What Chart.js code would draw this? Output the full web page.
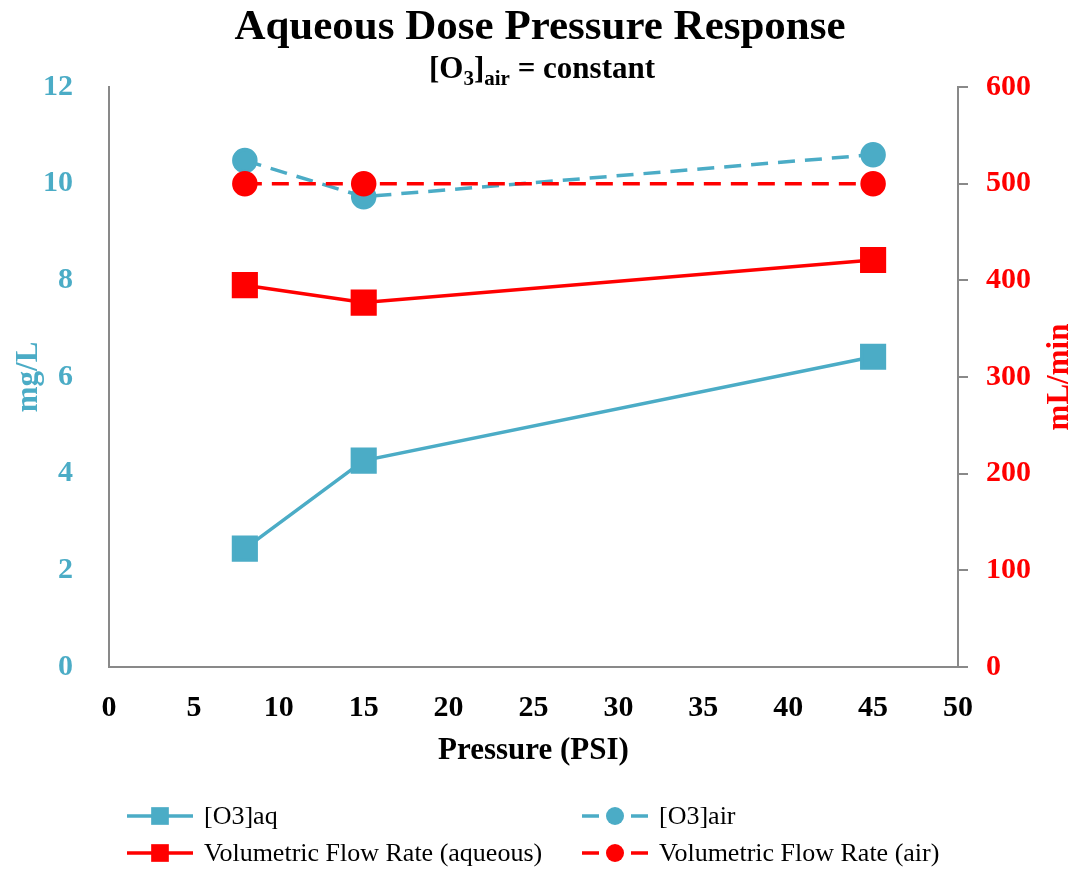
<!DOCTYPE html>
<html>
<head>
<meta charset="utf-8">
<title>Aqueous Dose Pressure Response</title>
<script src="https://cdn.jsdelivr.net/npm/chart.js@4/dist/chart.umd.min.js"></script>
<style>
  html, body { margin: 0; padding: 0; background: #fff; }
  #wrap { width: 1076px; height: 869px; }
</style>
</head>
<body>
<div id="wrap"><canvas id="myChart" width="1076" height="869"></canvas></div>
<script>
// measurements, pressure in PSI
const pressure = [8, 15, 45];
const o3Aq = [2.45, 4.27, 6.42];       // mg/L
const o3Air = [10.48, 9.73, 10.6];     // mg/L
const flowAq = [395, 377, 421];        // mL/min
const flowAir = [500, 500, 500];       // mL/min

const xTickValues = [0, 5, 10, 15, 20, 25, 30, 35, 40, 45, 50];
const yTickValues = [0, 2, 4, 6, 8, 10, 12];
const y2TickValues = [0, 100, 200, 300, 400, 500, 600];

const titleText = 'Aqueous Dose Pressure Response';
const subtitleParts = [
  { text: '[O', sub: false },
  { text: '3', sub: true },
  { text: ']', sub: false },
  { text: 'air', sub: true },
  { text: ' = constant', sub: false }
];

const SERIF = '"Liberation Serif", "Times New Roman", serif';
const BLUE = '#4BACC6';
const RED = '#FF0000';
const AXIS = '#898989';

const toPoints = ys => ys.map((y, i) => ({ x: pressure[i], y: y }));
const setTicks = values => scale => { scale.ticks = values.map(v => ({ value: v })); };

const ctx = document.getElementById('myChart');

// titles, rotated axis titles and the two-column legend
const chartText = {
  id: 'chartText',
  afterDraw(chart) {
    const c = chart.ctx;
    const area = chart.chartArea;
    const midY = (area.top + area.bottom) / 2;
    c.save();

    c.fillStyle = '#000';
    c.textAlign = 'center';
    c.textBaseline = 'alphabetic';
    c.font = `bold 43px ${SERIF}`;
    c.fillText(titleText, 540, 39);

    // subtitle with subscripts
    const bigFont = `bold 31px ${SERIF}`;
    const subFont = `bold 21px ${SERIF}`;
    let total = 0;
    subtitleParts.forEach(p => {
      c.font = p.sub ? subFont : bigFont;
      p.w = c.measureText(p.text).width;
      total += p.w;
    });
    let sx = 542 - total / 2;
    c.textAlign = 'left';
    subtitleParts.forEach(p => {
      c.font = p.sub ? subFont : bigFont;
      c.fillText(p.text, sx, p.sub ? 85 : 78);
      sx += p.w;
    });

    // axis titles, both read bottom to top
    c.textAlign = 'center';
    c.textBaseline = 'middle';
    c.font = `bold 31px ${SERIF}`;
    [['mg/L', 29, BLUE], ['mL/min', 1060, RED]].forEach(([txt, x, col]) => {
      c.save();
      c.translate(x, midY);
      c.rotate(-Math.PI / 2);
      c.fillStyle = col;
      c.fillText(txt, 0, 0);
      c.restore();
    });

    // legend
    const colX = [127, 582];
    const rowY = [816, 853];
    const symW = 66;
    chart.data.datasets.forEach((ds, i) => {
      const x0 = colX[i % 2];
      const y = rowY[Math.floor(i / 2)];
      const cx = x0 + symW / 2;
      c.strokeStyle = ds.borderColor;
      c.lineWidth = ds.borderWidth;
      c.setLineDash(ds.borderDash || []);
      c.beginPath();
      c.moveTo(x0, y);
      c.lineTo(cx, y);
      c.moveTo(x0 + symW, y);
      c.lineTo(cx, y);
      c.stroke();
      c.setLineDash([]);
      c.fillStyle = ds.backgroundColor;
      Chart.helpers.drawPoint(c, {
        pointStyle: ds.pointStyle,
        radius: ds.pointStyle === 'rect' ? 12.5 : 9,
        borderWidth: 0,
        rotation: 0
      }, cx, y);
      c.fillStyle = '#000';
      c.textAlign = 'left';
      c.font = `26px ${SERIF}`;
      c.fillText(ds.label, x0 + symW + 11, y + 1);
    });

    c.restore();
  }
};

const chartData = {
  datasets: [{
    label: '[O3]aq',
    data: toPoints(o3Aq),
    yAxisID: 'y',
    borderColor: BLUE,
    backgroundColor: BLUE,
    borderWidth: 3.5,
    pointStyle: 'rect',
    pointRadius: 16,
    order: 3
  },
  {
    label: '[O3]air',
    data: toPoints(o3Air),
    yAxisID: 'y',
    borderColor: BLUE,
    backgroundColor: BLUE,
    borderWidth: 3.5,
    borderDash: [17, 10],
    pointStyle: 'circle',
    pointRadius: 11,
    order: 2
  },
  {
    label: 'Volumetric Flow Rate (aqueous)',
    data: toPoints(flowAq),
    yAxisID: 'y2',
    borderColor: RED,
    backgroundColor: RED,
    borderWidth: 3.5,
    pointStyle: 'rect',
    pointRadius: 16,
    order: 1
  },
  {
    label: 'Volumetric Flow Rate (air)',
    data: toPoints(flowAir),
    yAxisID: 'y2',
    borderColor: RED,
    backgroundColor: RED,
    borderWidth: 3.5,
    borderDash: [17, 10],
    pointStyle: 'circle',
    pointRadius: 11,
    order: 0
  }]
};

const chart = new Chart(ctx, {
  type: 'line',
  data: chartData,
  plugins: [chartText],
  options: {
    responsive: false,
    animation: false,
    devicePixelRatio: 1,
    events: [],
    clip: false,
    elements: {
      line: { tension: 0 },
      point: { borderWidth: 0, hoverRadius: 0 }
    },
    layout: { padding: { top: 87, bottom: 92, left: 0, right: 0 } },
    plugins: {
      legend: { display: false },
      tooltip: { enabled: false }
    },
    scales: {
      x: {
        type: 'linear',
        min: 0,
        max: 50,
        afterBuildTicks: setTicks(xTickValues),
        afterFit: scale => { scale.height = 110; },
        grid: { display: false },
        border: { color: AXIS, width: 2 },
        ticks: {
          color: '#000',
          font: { family: SERIF, size: 30, weight: 'bold' },
          padding: 15,
          maxRotation: 0,
          autoSkip: false
        },
        title: {
          display: true,
          text: 'Pressure (PSI)',
          color: '#000',
          font: { family: SERIF, size: 31, weight: 'bold' },
          padding: { top: 0, bottom: 7 }
        }
      },
      y: {
        type: 'linear',
        position: 'left',
        min: 0,
        max: 12,
        afterBuildTicks: setTicks(yTickValues),
        afterFit: scale => { scale.width = 109; },
        grid: { display: false },
        border: { color: AXIS, width: 2 },
        ticks: {
          color: BLUE,
          font: { family: SERIF, size: 30, weight: 'bold' },
          padding: 28
        }
      },
      y2: {
        type: 'linear',
        position: 'right',
        min: 0,
        max: 600,
        afterBuildTicks: setTicks(y2TickValues),
        afterFit: scale => { scale.width = 118; },
        grid: {
          display: true,
          drawOnChartArea: false, // only the outward tick marks
          color: AXIS,
          lineWidth: 2,
          tickLength: 10
        },
        border: { color: AXIS, width: 2 },
        ticks: {
          color: RED,
          font: { family: SERIF, size: 30, weight: 'bold' },
          padding: 18
        }
      }
    }
  }
});
</script>
</body>
</html>
